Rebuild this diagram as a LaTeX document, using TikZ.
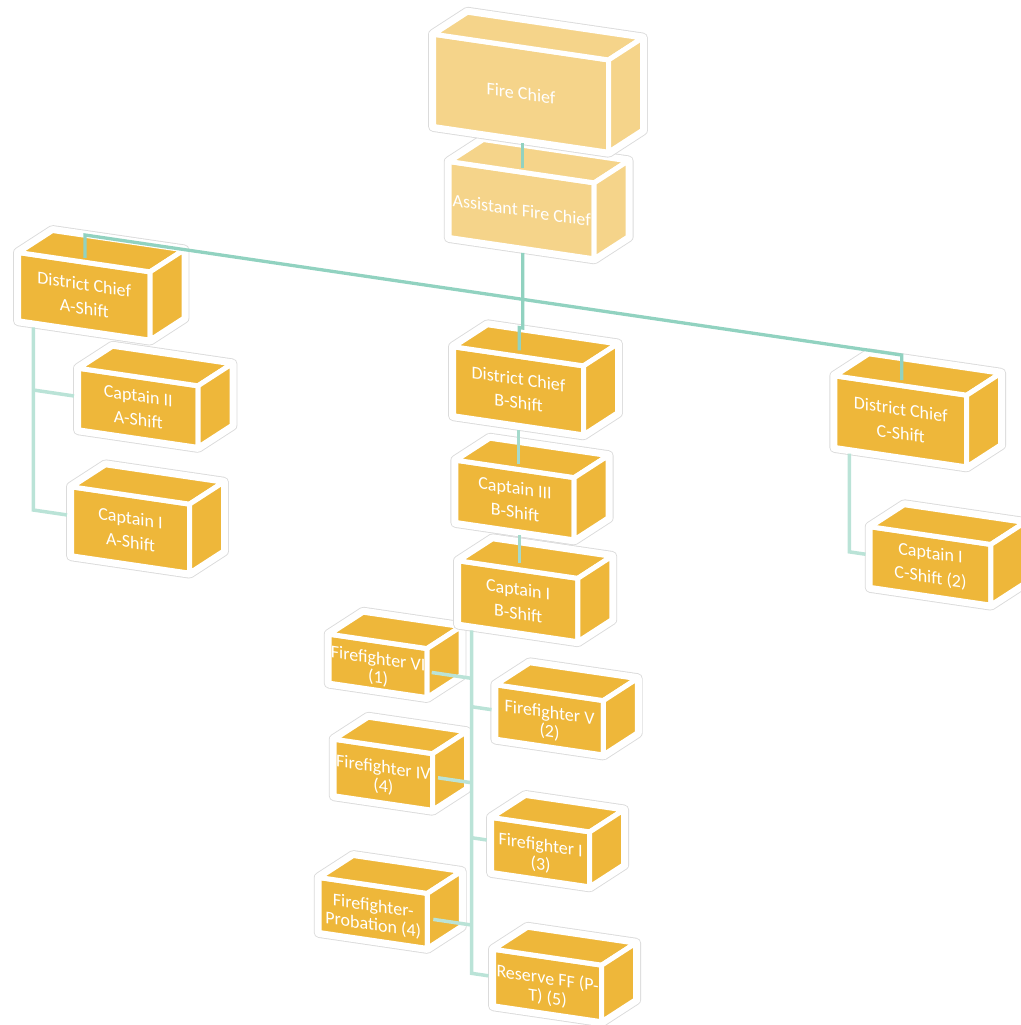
\documentclass[tikz,border=0pt]{standalone}
\usepackage{fontspec}
\setmainfont{Carlito}
\definecolor{pale}{RGB}{245,212,138}
\definecolor{gold}{RGB}{238,183,58}
\definecolor{link}{RGB}{145,210,192}
\definecolor{linkmid}{RGB}{165,218,204}
\definecolor{linklight}{RGB}{186,227,215}
\tikzset{
  halo/.style={preaction={draw=gray!28, line width=10.8pt, line join=round},
               draw=white, fill=white, line width=9pt, line join=round},
  face/.style={fill=#1, draw=white, line width=5pt, line join=round},
  lbl/.style={text=white, align=center, transform shape, inner sep=0pt},
  wrapped/.style={font={\fontsize{18}{19}\selectfont}, yshift=-3pt},
  paras/.style={font={\fontsize{18}{24}\selectfont}},
  conn/.style={draw=link, line width=3.3pt},
  connmid/.style={draw=linkmid, line width=3.5pt},
  connlight/.style={draw=linklight, line width=3.5pt}
}
% name, xl, xr, vt, vb, colour, text, label style
\newcommand\obox[8]{%
  \pgfmathsetmacro\obxr{#3+34}%
  \pgfmathsetmacro\obxl{#2+34}%
  \pgfmathsetmacro\obvt{#4-27}%
  \pgfmathsetmacro\obvb{#5-27}%
  \path[halo] (#2,#5) -- (#2,#4) -- (\obxl,\obvt) -- (\obxr,\obvt) -- (\obxr,\obvb) -- (#3,#5) -- cycle;
  \path[face=#6] (#2,#4) -- (#3,#4) -- (#3,#5) -- (#2,#5) -- cycle;
  \path[face=#6] (#2,#4) -- (\obxl,\obvt) -- (\obxr,\obvt) -- (#3,#4) -- cycle;
  \path[face=#6] (#3,#4) -- (\obxr,\obvt) -- (\obxr,\obvb) -- (#3,#5) -- cycle;
  \node[lbl, #8] (#1) at ({(#2+#3)/2},{(#4+#5)/2}) {#7};
}
\begin{document}
\begin{tikzpicture}[x=1pt,y=-1pt]
\useasboundingbox (0,0) rectangle (1020,1025);
\begin{scope}[cm={1,-0.147,0,1,(0,0)}]
  % boxes, children first
  \obox{rff}{493.5}{601.7}{876.7}{933.3}{gold}{Reserve FF (P-\\T) (5)}{wrapped}
  \obox{ffp}{319.2}{427.3}{830.6}{885.6}{gold}{Firefighter-\\Probation (4)}{wrapped}
  \obox{ff1}{491.5}{589.7}{745.2}{800.2}{gold}{Firefighter I\\(3)}{wrapped}
  \obox{ff4}{334.2}{432.5}{690.1}{746.7}{gold}{Firefighter IV\\(4)}{wrapped}
  \obox{ff5}{495.8}{603.3}{611.9}{666.3}{gold}{Firefighter V\\(2)}{wrapped}
  \obox{ff6}{329.2}{427.0}{585.8}{634.8}{gold}{Firefighter VI\\(1)}{wrapped}
  \obox{c1c}{870.2}{990.8}{398.8}{459.5}{gold}{Captain I\\C-Shift (2)}{paras}
  \obox{dcc}{834.8}{966.7}{253.1}{324.8}{gold}{District Chief\\C-Shift}{paras}
  \obox{c1b}{458.5}{577.8}{493.4}{556.8}{gold}{Captain I\\B-Shift}{paras}
  \obox{c3b}{455.8}{574.2}{393.2}{455.5}{gold}{Captain III\\B-Shift}{paras}
  \obox{dcb}{453.5}{583.5}{280.1}{349.1}{gold}{District Chief\\B-Shift}{paras}
  \obox{c1a}{71.5}{189.5}{476.3}{545.3}{gold}{Captain I\\A-Shift}{paras}
  \obox{c2a}{78.5}{198.0}{356.7}{418.3}{gold}{Captain II\\A-Shift}{paras}
  \obox{dca}{18.5}{150.0}{249.8}{318.1}{gold}{District Chief\\A-Shift}{paras}
  \obox{ac}{449.2}{594.2}{95.5}{171.5}{pale}{Assistant Fire Chief}{paras}
  \obox{fc}{433.5}{608.5}{-29.5}{62.8}{pale}{Fire Chief}{paras}

  % junction coordinates
  \coordinate (fc-s) at (522.7,66.5);
  \coordinate (ac-n) at (522.7,91);
  \coordinate (ac-s) at (522.7,176);
  \coordinate (bus) at (522.7,222.5);
  \coordinate (busA) at (85,222.5);
  \coordinate (dca-n) at (85,245.5);
  \coordinate (busC) at (901.7,222.5);
  \coordinate (dcc-n) at (901.7,247.5);
  \coordinate (jogB1) at (522.7,251.2);
  \coordinate (jogB2) at (519.3,251.2);
  \coordinate (dcb-n) at (519.3,274);
  \coordinate (dca-s) at (33.3,322.6);
  \coordinate (trA2) at (33.3,385.1);
  \coordinate (c2a-w) at (74,385.1);
  \coordinate (trA1) at (33.3,505.1);
  \coordinate (c1a-w) at (67,505.1);
  \coordinate (dcb-s) at (518.3,353.6);
  \coordinate (c3b-n) at (518.3,387.5);
  \coordinate (c3b-s) at (519.3,458.7);
  \coordinate (c1b-n) at (519.3,487);
  \coordinate (c1b-s) at (471.7,561);
  \coordinate (t6) at (471.7,609);
  \coordinate (ff6-e) at (431.7,609);
  \coordinate (t5) at (471.7,637.4);
  \coordinate (ff5-w) at (491.5,637.4);
  \coordinate (t4) at (471.7,713.4);
  \coordinate (ff4-e) at (438,713.4);
  \coordinate (t1) at (471.7,768.4);
  \coordinate (ff1-w) at (486.7,768.4);
  \coordinate (tp) at (471.7,855.7);
  \coordinate (ffp-e) at (433.3,855.7);
  \coordinate (tr) at (471.7,904);
  \coordinate (rff-w) at (488.5,904);
  \coordinate (dcc-s) at (849.3,328.8);
  \coordinate (trC) at (849.3,427);
  \coordinate (c1c-w) at (865.5,427);

  % connectors
  \draw[conn] (fc-s) -- (ac-n);
  \draw[conn] (ac-s) -- (bus) -- (busA) -- (dca-n);
  \draw[conn] (bus) -- (busC) -- (dcc-n);
  \draw[conn] (bus) -- (jogB1) -- (jogB2) -- (dcb-n);
  \draw[connlight] (dca-s) -- (trA1) -- (c1a-w);
  \draw[connlight] (trA2) -- (c2a-w);
  \draw[connmid] (dcb-s) -- (c3b-n);
  \draw[connmid] (c3b-s) -- (c1b-n);
  \draw[connlight] (c1b-s) -- (tr) -- (rff-w);
  \draw[connlight] (ff6-e) -- (t6);
  \draw[connlight] (t5) -- (ff5-w);
  \draw[connlight] (ff4-e) -- (t4);
  \draw[connlight] (t1) -- (ff1-w);
  \draw[connlight] (ffp-e) -- (tp);
  \draw[connlight] (dcc-s) -- (trC) -- (c1c-w);
\end{scope}
\end{tikzpicture}
\end{document}
